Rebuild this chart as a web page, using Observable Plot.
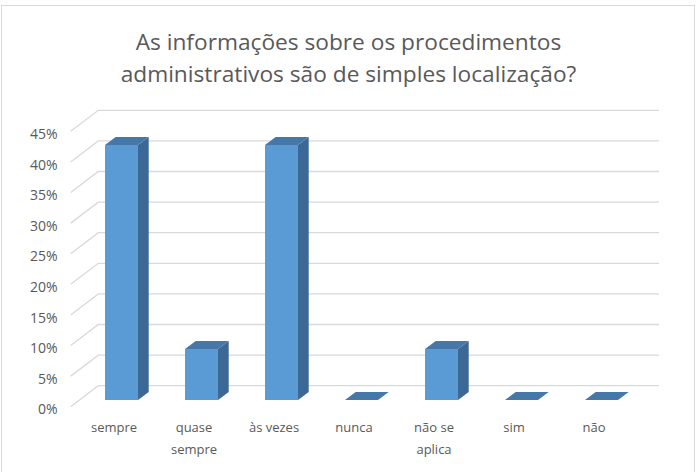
<!DOCTYPE html>
<html>
<head>
<meta charset="utf-8">
<script src="https://cdn.jsdelivr.net/npm/d3@7"></script>
<script src="https://cdn.jsdelivr.net/npm/@observablehq/plot@0.6"></script>
<style>
  html, body { margin: 0; padding: 0; background: #fff; }
  #wrap { position: relative; width: 697px; height: 472px; overflow: hidden; font-family: "Open Sans", sans-serif; }
  #frame { position: absolute; left: 1px; top: 5px; width: 694px; height: 480px; border: 1px solid #d9d9d9; box-sizing: border-box; }
  #title { position: absolute; left: 0; top: 25.5px; width: 697px; text-align: center; font-size: 22.7px; line-height: 32px; color: #595959; }
  .layer { position: absolute; left: 0; top: 0; }
</style>
</head>
<body>
<div id="wrap">
  <div id="frame"></div>
  <div id="title">As informações sobre os procedimentos<br>administrativos são de simples localização?</div>
  <div id="main" class="layer"></div>
</div>
<script>
// ---- data ----
const categories = ["sempre", "quase sempre", "às vezes", "nunca", "não se aplica", "sim", "não"];
const tickLabels = ["sempre", "quase\nsempre", "às vezes", "nunca", "não se\naplica", "sim", "não"];
const values = [41.67, 8.33, 41.67, 0, 8.33, 0, 0];
const yTicks = [0, 5, 10, 15, 20, 25, 30, 35, 40, 45];

const data = categories.map((c, i) => ({category: c, value: values[i]}));

// 3D geometry (pixels)
const FLOOR_DX = 27.6, FLOOR_DY = -21;       // full floor depth
const FRONT_FRAC = 0.32;                      // bar plane position within floor depth
const BAR_DX = 10.7, BAR_DY = -8;             // bar depth
const WALL_LEFT_FRONT = 70.7, WALL_RIGHT = 659;

const ns = "http://www.w3.org/2000/svg";
function el(tag, attrs) {
  const e = document.createElementNS(ns, tag);
  for (const k in attrs) e.setAttribute(k, attrs[k]);
  return e;
}

// gridlines: left diagonal + back wall, positioned with the y scale
function gridMark(index, scales) {
  const y = scales.y;
  const g = el("g", {stroke: "#d9d9d9", "stroke-width": 1.3, fill: "none"});
  for (const t of yTicks) {
    const yp = y(t);
    const fyFront = yp + FRONT_FRAC * -FLOOR_DY;
    const fyBack = fyFront + FLOOR_DY;
    const bx = WALL_LEFT_FRONT + FLOOR_DX;
    g.appendChild(el("path", {d: `M${WALL_LEFT_FRONT},${fyFront}L${bx},${fyBack}L${WALL_RIGHT},${fyBack}`}));
  }
  return g;
}

// side and top faces of the bars
function facesMark(index, scales) {
  const x = scales.x, y = scales.y;
  const bw = typeof x.bandwidth === "function" ? x.bandwidth() : (scales.scales && scales.scales.x.bandwidth);
  const g = el("g", {});
  for (const d of data) {
    const x0 = x(d.category), x1 = x0 + bw;
    const yb = y(0), yt = y(d.value);
    if (d.value > 0) {
      g.appendChild(el("path", {
        d: `M${x1},${yb}L${x1 + BAR_DX},${yb + BAR_DY}L${x1 + BAR_DX},${yt + BAR_DY}L${x1},${yt}Z`,
        fill: "#3b6894"
      }));
    }
    g.appendChild(el("path", {
      d: `M${x0},${yt}L${x1},${yt}L${x1 + BAR_DX},${yt + BAR_DY}L${x0 + BAR_DX},${yt + BAR_DY}Z`,
      fill: "#4677a9"
    }));
  }
  return g;
}

const main = Plot.plot({
  width: 697,
  height: 472,
  marginLeft: 60,
  marginBottom: 56.6,
  style: {background: "transparent", color: "#595959", fontFamily: "Open Sans", fontSize: "14px", overflow: "visible"},
  x: {type: "band", domain: categories, range: [56.6, 665.3], padding: 0.59},
  y: {domain: [0, 45], range: [400, 124.6]},
  marks: [
    gridMark,
    facesMark,
    Plot.barY(data, {x: "category", y: "value", fill: "#5b9bd5"}),
    Plot.axisY({ticks: yTicks, tickFormat: d => d + "%", tickSize: 0, tickPadding: 3, dy: 9.5, fontSize: 14, label: null}),
    Plot.axisX({tickSize: 0, tickPadding: 0, dx: -8, tickFormat: d => tickLabels[categories.indexOf(d)], lineHeight: 1.72, fontSize: 13, label: null})
  ]
});
document.getElementById("main").appendChild(main);
</script>
</body>
</html>
